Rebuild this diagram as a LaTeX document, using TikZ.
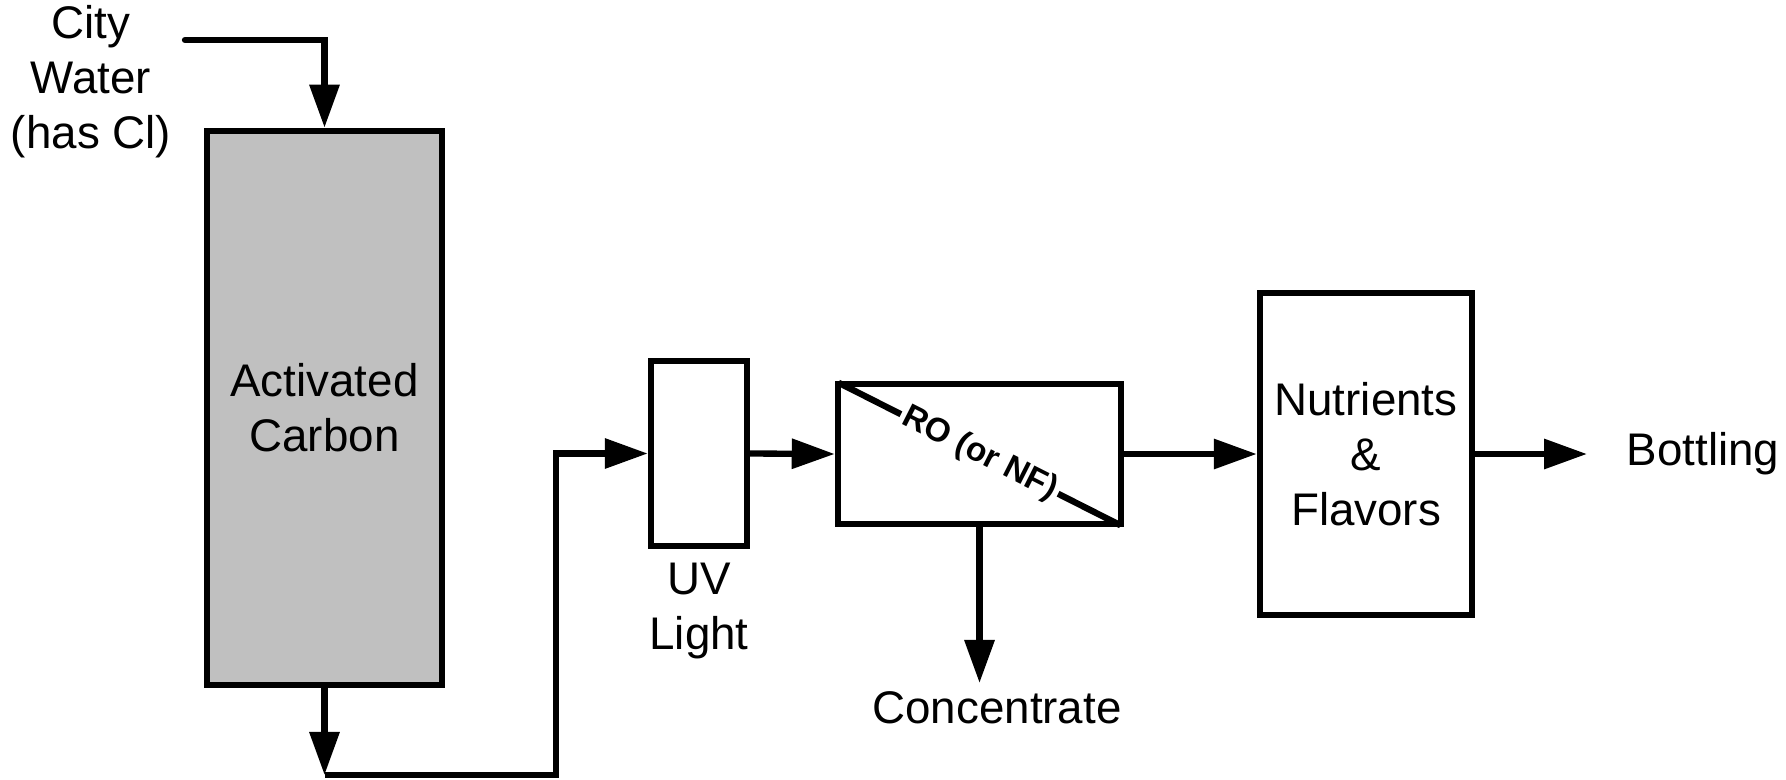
\documentclass[tikz,border=0pt]{standalone}
\usepackage{fontspec}
\setmainfont{Liberation Sans}
\usetikzlibrary{arrows.meta, positioning}

\begin{document}
\begin{tikzpicture}[x=0.01cm, y=-0.01cm, line width=1.8pt,
    every node/.style={font=\fontsize{13}{15.6}\selectfont},
    unit/.style={draw, rectangle, inner sep=0pt, align=center},
    flow/.style={-{Triangle[length=4.3mm, width=2.9mm]}}]
    \useasboundingbox (0,0) rectangle (1786,779);

    % Process units
    \node[unit, fill={rgb,255:red,192;green,192;blue,192}, minimum width=2.35cm, minimum height=5.54cm] (carbon) at (324.5,408) {Activated\\Carbon};
    \node[unit, minimum width=0.96cm, minimum height=1.85cm] (uv) at (699,453.5) {};
    \node[unit, minimum width=2.83cm, minimum height=1.4cm] (ro) at (979.5,454) {};
    \node[unit, minimum width=2.12cm, minimum height=3.22cm] (nutr) at (1366,454) {Nutrients\\\&\\Flavors};

    % Labels
    \node[align=center] (city) at (91,82) {City\\Water\\(has Cl)};
    \node[align=center] (uvlabel) at (699,611) {UV\\Light};
    \node (conc) at (997,708) {Concentrate};
    \node[anchor=west] (bottling) at (1612,454) {Bottling};

    % Membrane
    \draw[shorten <=1.2pt, shorten >=1.2pt] (ro.north west) -- (ro.south east)
        node[midway, sloped, fill=white, inner sep=1pt, font=\fontsize{9.5}{11}\selectfont\bfseries] {RO (or NF)};

    % Flow lines
    \coordinate (cwstart) at (185,40);
    \coordinate (cbot) at (324.5,775);
    \coordinate (bend) at (556,775);
    \coordinate (conctip) at (979.5,683);
    \coordinate (bottip) at (1587,454);
    \draw[flow, line cap=round] (cwstart) -| (carbon.north);
    \draw[flow] (carbon.south) -- (cbot);
    \draw[flow] (cbot) -- (bend) |- (uv.west);
    \draw[flow] (uv.east) -- (ro.west);
    \draw[flow] (ro.south) -- (conctip);
    \draw[flow] (ro.east) -- (nutr.west);
    \draw[flow] (nutr.east) -- (bottip);
\end{tikzpicture}
\end{document}
